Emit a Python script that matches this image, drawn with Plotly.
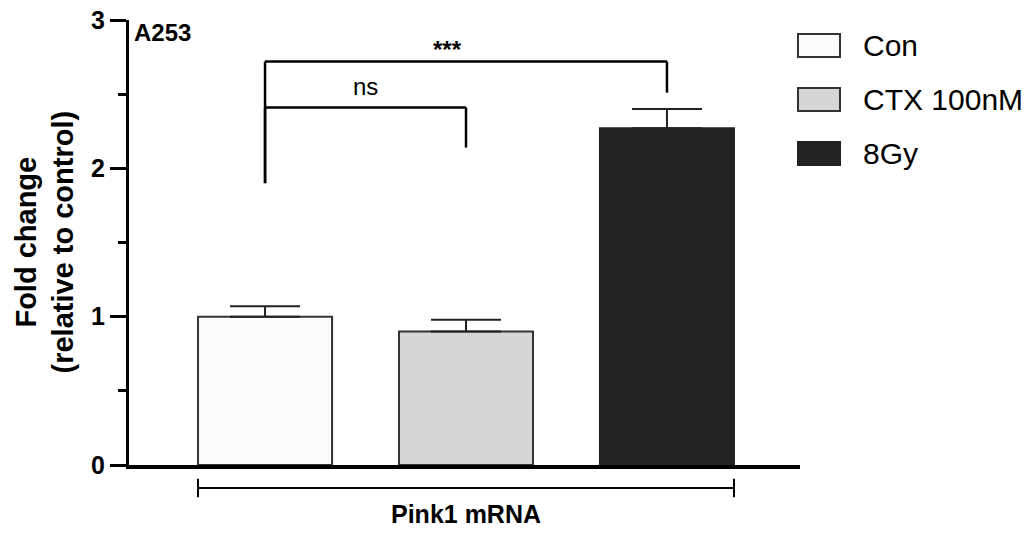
import plotly.graph_objects as go

# ---- data -------------------------------------------------------------
groups = ["Con", "CTX 100nM", "8Gy"]
fold_change = [1.00, 0.90, 2.27]
sem = [0.07, 0.08, 0.13]
bar_fill = ["#fcfcfc", "#d6d6d4", "#222222"]
bar_edge = ["#333333", "#333333", "#222222"]

gene_label = "Pink1 mRNA"
cell_line = "A253"
y_title = "Fold change<br>(relative to control)"
y_ticks = [0, 1, 2, 3]
y_minor_ticks = [0.5, 1.5, 2.5]

# significance brackets: (left group, right group, label, top, left leg end, right leg end, label height)
comparisons = [
    (0, 2, "***", 2.72, 1.90, 2.51, 2.80),
    (0, 1, "ns", 2.41, 1.90, 2.14, 2.55),
]

# ---- layout constants ---------------------------------------------------
W, H = 1036, 533
M_L, M_R, M_T, M_B = 129, 236, 20, 68
FONT = "Liberation Sans, Arial, Helvetica, sans-serif"
BAR_W = 0.667
X_RANGE = [-0.677, 2.662]
Y_RANGE = [0, 3]

xs = list(range(len(groups)))


def px_x(px):
    """Figure pixel -> paper x."""
    return (px - M_L) / (W - M_L - M_R)


def px_y(py):
    """Figure pixel (from top) -> paper y."""
    return (H - M_B - py) / (H - M_T - M_B)


def dom_x(v):
    return (v - X_RANGE[0]) / (X_RANGE[1] - X_RANGE[0])


def dom_y(v):
    return (v - Y_RANGE[0]) / (Y_RANGE[1] - Y_RANGE[0])


fig = go.Figure()
fig.add_trace(go.Bar(
    x=xs,
    y=fold_change,
    width=BAR_W,
    marker=dict(color=bar_fill, line=dict(color=bar_edge, width=2)),
    error_y=dict(type="data", array=sem, arrayminus=[0] * len(sem),
                 symmetric=False, color="#222222", thickness=2, width=35),
    showlegend=False,
    hoverinfo="skip",
))

shapes = []
annotations = []

# comparison brackets above the bars
label_dx = {"***": -0.09, "ns": 0.0}
for a, b, label, top, leg_a, leg_b, lab_y in comparisons:
    line = dict(color="black", width=2.5)
    shapes.append(dict(type="line", xref="x", yref="y", x0=xs[a], x1=xs[b], y0=top, y1=top, line=line))
    shapes.append(dict(type="line", xref="x", yref="y", x0=xs[a], x1=xs[a], y0=top, y1=leg_a, line=line))
    shapes.append(dict(type="line", xref="x", yref="y", x0=xs[b], x1=xs[b], y0=top, y1=leg_b, line=line))
    annotations.append(dict(
        x=(xs[a] + xs[b]) / 2 + label_dx[label],
        y=lab_y, xref="x", yref="y", text=label, showarrow=False,
        xanchor="center", yanchor="middle",
        font=dict(family=FONT, size=24, color="black",
                  weight="bold" if label == "***" else "normal"),
    ))

# group bracket under the x axis
g_left = dom_x(xs[0] - BAR_W / 2)
g_right = dom_x(xs[-1] + BAR_W / 2)
g_y = dom_y(-0.155)
g_h = dom_y(0.062)
bl = dict(color="black", width=2)
shapes.append(dict(type="line", xref="x domain", yref="y domain", x0=g_left, x1=g_right, y0=g_y, y1=g_y, line=bl))
shapes.append(dict(type="line", xref="x domain", yref="y domain", x0=g_left, x1=g_left, y0=g_y - g_h, y1=g_y + g_h, line=bl))
shapes.append(dict(type="line", xref="x domain", yref="y domain", x0=g_right, x1=g_right, y0=g_y - g_h, y1=g_y + g_h, line=bl))
annotations.append(dict(
    x=(g_left + g_right) / 2, y=dom_y(-0.33), xref="x domain", yref="y domain",
    text=gene_label, showarrow=False, xanchor="center", yanchor="middle",
    font=dict(family=FONT, size=25, color="black", weight="bold"),
))

# legend swatches
for i, (name, fc, ec) in enumerate(zip(groups, bar_fill, bar_edge)):
    cy = 45.5 + 54 * i
    shapes.append(dict(
        type="rect", xref="paper", yref="paper",
        x0=px_x(798), x1=px_x(840), y0=px_y(cy + 11.5), y1=px_y(cy - 11.5),
        fillcolor=fc, line=dict(color=ec, width=2),
    ))
    annotations.append(dict(
        x=px_x(861), y=px_y(cy), xref="paper", yref="paper", text=name,
        showarrow=False, xanchor="left", yanchor="middle",
        font=dict(family=FONT, size=30, color="black"),
    ))

# panel tag
annotations.append(dict(
    x=px_x(132), y=px_y(32), xref="paper", yref="paper", text=cell_line,
    showarrow=False, xanchor="left", yanchor="middle",
    font=dict(family=FONT, size=24, color="black", weight="bold"),
))

# y-axis title
annotations.append(dict(
    x=0, y=0.5, xref="paper", yref="paper", xshift=-85, text=y_title,
    textangle=-90, showarrow=False, xanchor="center", yanchor="middle",
    font=dict(family=FONT, size=29, color="black", weight="bold"),
))

fig.update_layout(
    width=W, height=H,
    margin=dict(l=M_L, r=M_R, t=M_T, b=M_B, pad=0, autoexpand=False),
    paper_bgcolor="white", plot_bgcolor="white",
    shapes=shapes, annotations=annotations,
    xaxis=dict(range=X_RANGE, showline=True, linecolor="black", linewidth=4,
               showticklabels=False, ticks="", showgrid=False, zeroline=False,
               automargin=False),
    yaxis=dict(range=Y_RANGE, showline=True, linecolor="black", linewidth=3,
               tickmode="array", tickvals=y_ticks, ticks="outside", ticklen=16,
               tickwidth=3, tickcolor="black", showgrid=False, zeroline=False,
               automargin=False,
               tickfont=dict(family=FONT, size=25, color="black", weight="bold"),
               minor=dict(tickmode="array", tickvals=y_minor_ticks, ticks="outside",
                          ticklen=8, tickwidth=3, tickcolor="black", showgrid=False)),
)

fig.write_html("out.html")
